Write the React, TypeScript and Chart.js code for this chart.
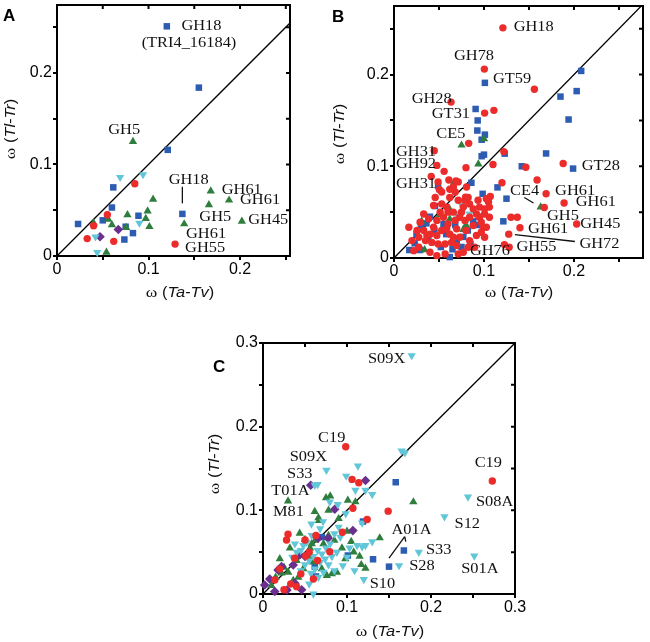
import React, { useEffect, useRef } from "react";
import { Chart, registerables } from "chart.js";
Chart.register(...registerables);

type Pt = [number, number];
type Lbl = [string, number, number];
type Seg = [number, number, number, number];

// ---------------- Panel A data ----------------
const A_BLUE: Pt[] = [
  [0.12, 0.251], [0.155, 0.184], [0.121, 0.116], [0.0615, 0.075], [0.06, 0.053], [0.023, 0.035],
  [0.05, 0.039], [0.089, 0.044], [0.075, 0.032], [0.083, 0.025], [0.0736, 0.018], [0.137, 0.046],
];
const A_RED: Pt[] = [[0.085, 0.079], [0.055, 0.045], [0.04, 0.033], [0.033, 0.019], [0.062, 0.016], [0.129, 0.013]];
const A_GREEN: Pt[] = [
  [0.083, 0.125], [0.105, 0.062], [0.168, 0.071], [0.188, 0.061], [0.166, 0.056], [0.202, 0.038],
  [0.139, 0.035], [0.099, 0.049], [0.097, 0.041], [0.101, 0.032], [0.077, 0.045], [0.0755, 0.031],
  [0.056, 0.04], [0.06, 0.034], [0.04, 0.036], [0.054, 0.004],
];
const A_CYAN: Pt[] = [[0.069, 0.086], [0.094, 0.089], [0.09, 0.036], [0.042, 0.021], [0.044, 0.004]];
const A_PURPLE: Pt[] = [[0.047, 0.021], [0.067, 0.029]];
const A_LABELS: Lbl[] = [
  ["GH18", 0.136, 0.251], ["(TRI4_16184)", 0.0925, 0.232], ["GH5", 0.056, 0.137], ["GH18", 0.122, 0.083],
  ["GH61", 0.18, 0.072], ["GH61", 0.2, 0.061], ["GH5", 0.1555, 0.042], ["GH45", 0.209, 0.039],
  ["GH61", 0.141, 0.024], ["GH55", 0.14, 0.0084],
];
const A_LEADERS: Seg[] = [[0.137, 0.0757, 0.137, 0.0575]];

// ---------------- Panel B data ----------------
const B_RED: Pt[] = [
  [0.121, 0.251], [0.1004, 0.206], [0.156, 0.184], [0.0634, 0.17], [0.1007, 0.158], [0.111, 0.161],
  [0.083, 0.125], [0.0447, 0.117], [0.122, 0.116], [0.0476, 0.101], [0.0557, 0.0945], [0.08, 0.0985],
  [0.11, 0.102], [0.0414, 0.089], [0.1465, 0.099], [0.188, 0.103], [0.159, 0.085], [0.12, 0.082],
  [0.061, 0.085], [0.069, 0.084], [0.0505, 0.0745], [0.169, 0.07], [0.189, 0.06], [0.0806, 0.0774],
  [0.0795, 0.0664], [0.107, 0.067], [0.105, 0.061], [0.167, 0.055], [0.203, 0.037], [0.137, 0.0445],
  [0.13, 0.0445], [0.14, 0.033], [0.1275, 0.026], [0.1227, 0.0146], [0.128, 0.0117], [0.095, 0.0555],
  [0.0165, 0.0336], [0.029, 0.039], [0.033, 0.03], [0.0366, 0.0245], [0.035, 0.019], [0.04, 0.026],
  [0.044, 0.0336], [0.042, 0.017], [0.0476, 0.0245], [0.049, 0.0153], [0.053, 0.03], [0.055, 0.0445],
  [0.06, 0.05], [0.06, 0.037], [0.062, 0.026], [0.064, 0.017], [0.068, 0.041], [0.0696, 0.0318],
  [0.073, 0.0226], [0.075, 0.05], [0.0788, 0.041], [0.08, 0.03], [0.084, 0.0445], [0.088, 0.0354],
  [0.0916, 0.048], [0.095, 0.0445], [0.097, 0.039], [0.099, 0.0336], [0.1007, 0.048], [0.084, 0.019],
  [0.0897, 0.0117], [0.077, 0.0062], [0.0568, 0.0044], [0.0476, 0.0026], [0.04, 0.0062], [0.022, 0.008],
  [0.0275, 0.0117], [0.02, 0.019], [0.0275, 0.0226], [0.044, 0.0573], [0.053, 0.059], [0.062, 0.066],
  [0.068, 0.072], [0.0714, 0.063], [0.0586, 0.0555], [0.066, 0.0774], [0.0714, 0.083], [0.062, 0.075],
  [0.049, 0.083], [0.053, 0.072], [0.0788, 0.063], [0.084, 0.059], [0.0934, 0.063], [0.1026, 0.0646],
  [0.106, 0.0555], [0.1007, 0.0536], [0.088, 0.0536], [0.077, 0.0555], [0.073, 0.0445], [0.0659, 0.05],
  [0.0586, 0.0318], [0.066, 0.0226], [0.0696, 0.0135], [0.0714, 0.0044], [0.0824, 0.0117], [0.0916, 0.0245],
  [0.1007, 0.0226], [0.1026, 0.0336], [0.097, 0.028], [0.033, 0.048], [0.0385, 0.0427], [0.0476, 0.041],
  [0.0513, 0.05], [0.0458, 0.066], [0.0824, 0.066], [0.106, 0.0445], [0.0256, 0.03], [0.0568, 0.0153],
];
const B_BLUE: Pt[] = [
  [0.101, 0.191], [0.0907, 0.1625], [0.093, 0.15], [0.0926, 0.139], [0.101, 0.1345], [0.0974, 0.129],
  [0.0974, 0.111], [0.1, 0.1127], [0.123, 0.1138], [0.142, 0.1], [0.169, 0.114], [0.199, 0.0975],
  [0.115, 0.077], [0.0985, 0.07], [0.125, 0.0647], [0.1215, 0.04], [0.208, 0.204], [0.203, 0.182],
  [0.185, 0.176], [0.194, 0.151],
  [0.049, 0.0785], [0.0456, 0.0567], [0.036, 0.0378], [0.023, 0.016], [0.017, 0.0087], [0.029, 0.0087],
  [0.062, 0.001], [0.065, 0.0095], [0.0697, 0.0196], [0.088, 0.04], [0.077, 0.023], [0.038, 0.023],
  [0.086, 0.082], [0.045, 0.03], [0.055, 0.037], [0.068, 0.036], [0.082, 0.03], [0.095, 0.045],
  [0.072, 0.046], [0.058, 0.026], [0.04, 0.045], [0.03, 0.033], [0.085, 0.015], [0.052, 0.012],
  [0.075, 0.012], [0.025, 0.026], [0.092, 0.036],
];
const B_GREEN: Pt[] = [
  [0.075, 0.123], [0.1, 0.13], [0.0937, 0.1025], [0.0667, 0.0825], [0.061, 0.0545], [0.062, 0.0425],
  [0.051, 0.047], [0.0307, 0.04], [0.077, 0.031], [0.163, 0.0556], [0.034, 0.009], [0.08, 0.036],
];
const B_CYAN: Pt[] = [[0.0744, 0.059], [0.0715, 0.048], [0.082, 0.042], [0.084, 0.048], [0.07, 0.043], [0.078, 0.055]];
const B_PURPLE: Pt[] = [];
const B_LABELS: Lbl[] = [
  ["GH18", 0.133, 0.251], ["GH78", 0.0667, 0.22], ["GT59", 0.11, 0.195], ["GH28", 0.0196, 0.173],
  ["GT31", 0.042, 0.157], ["CE5", 0.047, 0.1345], ["GH31", 0.0022, 0.115], ["GH92", 0.0022, 0.1025],
  ["GH31", 0.0022, 0.08], ["GT28", 0.2085, 0.1], ["GH61", 0.179, 0.0727], ["CE4", 0.129, 0.0727],
  ["GH61", 0.202, 0.0607], ["GH5", 0.17, 0.0455], ["GH45", 0.207, 0.0364], ["GH61", 0.149, 0.031],
  ["GH72", 0.206, 0.0145], ["GH55", 0.136, 0.012], ["GH76", 0.0844, 0.0073],
];
const B_LEADERS: Seg[] = [[0.1448, 0.066, 0.155, 0.06], [0.1344, 0.0255, 0.201, 0.018]];

// ---------------- Panel C data ----------------
const C_CYAN: Pt[] = [
  [0.0755, 0.148], [0.113, 0.153], [0.0616, 0.13], [0.065, 0.131], [0.099, 0.141], [0.11, 0.124],
  [0.122, 0.124], [0.13, 0.119], [0.0795, 0.11], [0.089, 0.107], [0.0985, 0.096], [0.0576, 0.0838],
  [0.0715, 0.0866], [0.169, 0.169], [0.165, 0.171], [0.177, 0.285], [0.244, 0.116], [0.216, 0.0925],
  [0.1855, 0.05], [0.162, 0.034], [0.2515, 0.0455], [0.12, 0.0175], [0.109, 0.028], [0.13, 0.0626],
  [0.118, 0.0566], [0.1, 0.044], [0.122, 0.058], [0.112, 0.058], [0.092, 0.068], [0.085, 0.072],
  [0.08, 0.06], [0.075, 0.055], [0.07, 0.048], [0.065, 0.052], [0.06, 0.045], [0.055, 0.04],
  [0.05, 0.035], [0.045, 0.052], [0.052, 0.062], [0.058, 0.07], [0.068, 0.038], [0.074, 0.042],
  [0.078, 0.035], [0.082, 0.045], [0.088, 0.05], [0.062, 0.03], [0.057, 0.025], [0.066, 0.02],
  [0.072, 0.026], [0.048, 0.058], [0.04, 0.05], [0.035, 0.044], [0.038, 0.06], [0.095, 0.034],
  [0.103, 0.055], [0.06, 0.0], [0.055, 0.012], [0.045, 0.028], [0.085, 0.028], [0.09, 0.08],
  [0.068, 0.078], [0.118, 0.085],
];
const C_GREEN: Pt[] = [
  [0.0298, 0.111], [0.179, 0.11], [0.08, 0.117], [0.101, 0.112], [0.11, 0.11], [0.0616, 0.0985],
  [0.0667, 0.0878], [0.139, 0.067], [0.105, 0.0626], [0.122, 0.0307], [0.0437, 0.0726], [0.075, 0.115],
  [0.066, 0.091], [0.085, 0.064], [0.078, 0.07], [0.094, 0.055], [0.098, 0.042], [0.088, 0.026],
  [0.082, 0.024], [0.076, 0.022], [0.07, 0.03], [0.06, 0.038], [0.054, 0.045], [0.048, 0.03],
  [0.042, 0.02], [0.036, 0.016], [0.03, 0.026], [0.02, 0.042], [0.025, 0.032], [0.015, 0.02],
  [0.01, 0.01], [0.058, 0.06], [0.05, 0.065], [0.062, 0.064], [0.072, 0.06], [0.1, 0.075],
  [0.108, 0.05], [0.115, 0.045], [0.117, 0.035], [0.09, 0.09], [0.078, 0.1], [0.056, 0.055],
  [0.04, 0.04], [0.032, 0.055], [0.022, 0.025],
];
const C_RED: Pt[] = [
  [0.0985, 0.176], [0.273, 0.135], [0.106, 0.137], [0.114, 0.133], [0.107, 0.1025], [0.149, 0.099],
  [0.124, 0.089], [0.0946, 0.0738], [0.0298, 0.0714], [0.028, 0.0646], [0.05, 0.0646], [0.0795, 0.0506],
  [0.0377, 0.0427], [0.051, 0.0455], [0.04, 0.0088], [0.014, 0.0168], [0.025, 0.005], [0.06, 0.018],
  [0.045, 0.024], [0.033, 0.012], [0.065, 0.04], [0.055, 0.05], [0.02, 0.03], [0.063, 0.07],
];
const C_BLUE: Pt[] = [
  [0.158, 0.1336], [0.119, 0.0866], [0.1677, 0.052], [0.131, 0.0415], [0.15, 0.0327], [0.101, 0.046],
  [0.0616, 0.0327], [0.063, 0.021], [0.058, 0.04], [0.07, 0.068],
];
const C_PURPLE: Pt[] = [
  [0.122, 0.1356], [0.0568, 0.13], [0.0854, 0.1013], [0.107, 0.0758], [0.0775, 0.0666], [0.0656, 0.0666],
  [0.0437, 0.0467], [0.0179, 0.0287], [0.002, 0.0108], [0.0286, 0.0048], [0.014, 0.003], [0.038, 0.0128],
  [0.036, 0.0347], [0.022, 0.0327], [0.046, 0.005], [0.008, 0.018], [0.05, 0.045],
];
const C_LABELS: Lbl[] = [
  ["S09X", 0.125, 0.28], ["C19", 0.0656, 0.1863], ["S09X", 0.0318, 0.1635], ["S33", 0.0286, 0.1436],
  ["T01A", 0.0099, 0.1225], ["M81", 0.0119, 0.0973], ["C19", 0.252, 0.1556], ["S08A", 0.2535, 0.109],
  ["S12", 0.228, 0.0834], ["A01A", 0.153, 0.0758], ["S33", 0.194, 0.052], ["S28", 0.174, 0.0327],
  ["S01A", 0.236, 0.0295], ["S10", 0.127, 0.012],
];
const C_LEADERS: Seg[] = [[0.15, 0.0428, 0.1687, 0.0686], [0.1687, 0.0686, 0.17, 0.0627]];

const TICKS_025 = [0, 0.05, 0.1, 0.15, 0.2, 0.25];
const TICKS_03 = [0, 0.05, 0.1, 0.15, 0.2, 0.25, 0.3];
const DIAGONAL: Pt[] = [[0, 0], [0.3, 0.3]];

// ---------------- styles / layout ----------------
const COLORS = { blue: "#2d5db2", red: "#ec2b2b", green: "#2f7e3e", cyan: "#60c6d8", purple: "#6a2f8e" };
const SERIF = '"Liberation Serif", "Times New Roman", serif';
const SANS = '"Liberation Sans", Arial, sans-serif';
const STRETCH = 1.17;

interface Panel {
  id: string;
  box: { left: number; top: number; width: number; height: number };
  area: { left: number; top: number; right: number; bottom: number };
  xMax: number; yMax: number; xTicks: number[]; yTicks: number[];
  blue: Pt[]; red: Pt[]; green: Pt[]; cyan: Pt[]; purple: Pt[];
  labels: Lbl[]; leaders: Seg[];
  letterPos: [number, number]; xTitlePos: [number, number]; yTitlePos: [number, number];
}

const PANELS: Panel[] = [
  {
    id: "A", box: { left: 0, top: 0, width: 300, height: 310 },
    area: { left: 57, top: 5, right: 290, bottom: 256 },
    xMax: 0.2546, yMax: 0.2743, xTicks: TICKS_025, yTicks: TICKS_025,
    blue: A_BLUE, red: A_RED, green: A_GREEN, cyan: A_CYAN, purple: A_PURPLE,
    labels: A_LABELS, leaders: A_LEADERS,
    letterPos: [3, 16], xTitlePos: [180, 293], yTitlePos: [11, 129],
  },
  {
    id: "B", box: { left: 325, top: 0, width: 325, height: 310 },
    area: { left: 394, top: 6, right: 643, bottom: 258 },
    xMax: 0.2767, yMax: 0.2748, xTicks: TICKS_025, yTicks: TICKS_025,
    blue: B_BLUE, red: B_RED, green: B_GREEN, cyan: B_CYAN, purple: B_PURPLE,
    labels: B_LABELS, leaders: B_LEADERS,
    letterPos: [332, 17], xTitlePos: [519, 293], yTitlePos: [340, 134],
  },
  {
    id: "C", box: { left: 195, top: 320, width: 335, height: 322 },
    area: { left: 263, top: 343, right: 515, bottom: 594 },
    xMax: 0.3, yMax: 0.3, xTicks: TICKS_03, yTicks: TICKS_03,
    blue: C_BLUE, red: C_RED, green: C_GREEN, cyan: C_CYAN, purple: C_PURPLE,
    labels: C_LABELS, leaders: C_LEADERS,
    letterPos: [213, 367], xTitlePos: [390, 632], yTitlePos: [215, 464],
  },
];

const fmtTick = (v: any) => {
  const n = Number(v);
  const r = Math.round(n * 10);
  if (Math.abs(n * 10 - r) > 1e-6) return "";
  return r === 0 ? "0" : (r / 10).toFixed(1);
};

function drawTitle(ctx: CanvasRenderingContext2D, cx: number, cy: number, rot: number, italicPart: string) {
  const parts: [string, string][] = [
    ["ω", `15px ${SERIF}`],
    [" (", `14px ${SANS}`],
    [italicPart, `italic 14px ${SANS}`],
    [")", `14px ${SANS}`],
  ];
  let total = 0;
  const widths = parts.map(([t, f]) => { ctx.font = f; const w = ctx.measureText(t).width; total += w; return w; });
  ctx.save();
  ctx.translate(cx, cy);
  ctx.rotate(rot);
  ctx.scale(STRETCH, 1);
  ctx.textBaseline = "middle";
  ctx.textAlign = "left";
  ctx.fillStyle = "#111";
  let x = -total / 2;
  parts.forEach(([t, f], i) => { ctx.font = f; ctx.fillText(t, x, 0); x += widths[i]; });
  ctx.restore();
}

function PanelChart({ p }: { p: Panel }) {
  const ref = useRef<HTMLCanvasElement>(null);
  useEffect(() => {
    const canvas = ref.current!;
    const ox = p.box.left, oy = p.box.top;
    const aL = p.area.left - ox, aT = p.area.top - oy, aR = p.area.right - ox, aB = p.area.bottom - oy;
    const XH = 30;

    const decor = {
      id: "decor" + p.id,
      afterDraw(chart: any) {
        const { ctx, chartArea: a } = chart;
        const xs = chart.scales.x, ys = chart.scales.y;
        ctx.save();
        // top and right frame with inward ticks
        ctx.strokeStyle = "#000";
        ctx.lineWidth = 2;
        ctx.beginPath();
        ctx.moveTo(a.left - 1, a.top);
        ctx.lineTo(a.right, a.top);
        ctx.lineTo(a.right, a.bottom + 1);
        p.xTicks.forEach((v) => { const px = xs.getPixelForValue(v); ctx.moveTo(px, a.top); ctx.lineTo(px, a.top + 4); });
        p.yTicks.forEach((v) => { const py = ys.getPixelForValue(v); ctx.moveTo(a.right, py); ctx.lineTo(a.right - 4, py); });
        ctx.stroke();
        // leader lines
        ctx.lineWidth = 1.3;
        ctx.strokeStyle = "#111";
        ctx.beginPath();
        p.leaders.forEach(([x1, y1, x2, y2]) => {
          ctx.moveTo(xs.getPixelForValue(x1), ys.getPixelForValue(y1));
          ctx.lineTo(xs.getPixelForValue(x2), ys.getPixelForValue(y2));
        });
        ctx.stroke();
        // annotations
        ctx.fillStyle = "#111";
        ctx.font = `14px ${SERIF}`;
        ctx.textBaseline = "middle";
        ctx.textAlign = "left";
        p.labels.forEach(([t, x, y]) => {
          ctx.save();
          ctx.translate(xs.getPixelForValue(x), ys.getPixelForValue(y));
          ctx.scale(STRETCH, 1);
          ctx.fillText(t, 0, 0);
          ctx.restore();
        });
        // axis titles
        drawTitle(ctx, p.xTitlePos[0] - ox, p.xTitlePos[1] - oy, 0, "Ta-Tv");
        drawTitle(ctx, p.yTitlePos[0] - ox, p.yTitlePos[1] - oy, -Math.PI / 2, "Tl-Tr");
        // panel letter
        ctx.font = `bold 17px ${SANS}`;
        ctx.fillStyle = "#000";
        ctx.textBaseline = "middle";
        ctx.textAlign = "left";
        ctx.fillText(p.id, p.letterPos[0] - ox, p.letterPos[1] - oy);
        ctx.restore();
      },
    };

    const mk = (pts: Pt[], style: string, color: string, r: number, rot: number, order: number) => ({
      type: "scatter",
      data: pts.map(([x, y]) => ({ x, y })),
      pointStyle: style,
      pointRadius: r,
      pointRotation: rot,
      backgroundColor: color,
      borderColor: color,
      borderWidth: 0,
      clip: false,
      order,
    });

    const axisCommon = (max: number, ticks: number[]) => ({
      type: "linear",
      min: 0,
      max,
      afterBuildTicks: (s: any) => { s.ticks = ticks.map((v) => ({ value: v })); },
      grid: { display: true, drawOnChartArea: false, drawTicks: true, tickLength: 4, color: "#000", lineWidth: 2 },
      border: { display: true, color: "#000", width: 2 },
    });

    const chart = new Chart(canvas, {
      type: "scatter",
      data: {
        datasets: [
          {
            type: "line",
            data: DIAGONAL.map(([x, y]) => ({ x, y })),
            borderColor: "#000",
            borderWidth: 1.3,
            pointRadius: 0,
            fill: false,
            order: 10,
          } as any,
          mk(p.blue, "rect", COLORS.blue, 4.6, 0, 5),
          mk(p.green, "triangle", COLORS.green, 4.8, 0, 4),
          mk(p.purple, "rectRot", COLORS.purple, 4.8, 0, 3),
          mk(p.cyan, "triangle", COLORS.cyan, 4.8, 180, 2),
          mk(p.red, "circle", COLORS.red, 3.7, 0, 1),
        ] as any,
      },
      options: {
        responsive: false,
        maintainAspectRatio: false,
        animation: false,
        events: [],
        layout: { padding: { left: 0, top: aT, right: p.box.width - aR, bottom: p.box.height - aB - XH } },
        plugins: { legend: { display: false }, tooltip: { enabled: false } },
        scales: {
          x: {
            ...axisCommon(p.xMax, p.xTicks),
            afterFit: (s: any) => { s.height = XH; s.paddingLeft = 0; s.paddingRight = 0; },
            ticks: { autoSkip: false, maxRotation: 0, minRotation: 0, padding: 0, color: "#000", font: { family: SANS, size: 16 }, callback: fmtTick },
          },
          y: {
            ...axisCommon(p.yMax, p.yTicks),
            afterFit: (s: any) => { s.width = aL; s.paddingTop = 0; s.paddingBottom = 0; },
            ticks: { autoSkip: false, padding: 1, color: "#000", font: { family: SANS, size: 16 }, callback: fmtTick },
          },
        } as any,
      },
      plugins: [decor],
    } as any);
    return () => chart.destroy();
  }, [p]);
  return (
    <canvas
      ref={ref}
      width={p.box.width}
      height={p.box.height}
      style={{ position: "absolute", left: p.box.left, top: p.box.top, width: p.box.width, height: p.box.height }}
    />
  );
}

export default function App() {
  return (
    <div style={{ position: "absolute", left: 0, top: 0, width: 650, height: 642, background: "#fff", overflow: "hidden" }}>
      {PANELS.map((p) => <PanelChart key={p.id} p={p} />)}
    </div>
  );
}
